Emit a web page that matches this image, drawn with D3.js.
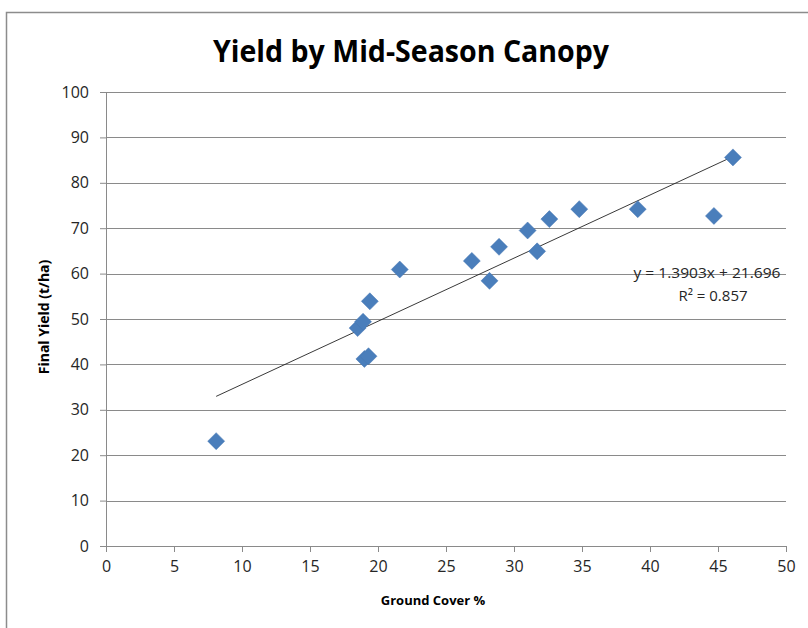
<!DOCTYPE html>
<html>
<head>
<meta charset="utf-8">
<script src="https://cdn.jsdelivr.net/npm/d3@7"></script>
<style>
  body { margin: 0; background: #fff; }
  text { font-family: "Open Sans", "Liberation Sans", sans-serif; }
</style>
</head>
<body>
<div id="chart"></div>
<script>
// Data
const groundCover = [8.1, 18.5, 18.9, 19.0, 19.3, 19.4, 21.6, 26.9, 28.2, 28.9, 31.0, 31.7, 32.6, 34.8, 39.1, 44.7, 46.1];
const finalYield  = [23.1, 48.0, 49.4, 41.2, 41.8, 53.9, 60.9, 62.8, 58.4, 65.9, 69.5, 64.9, 72.0, 74.2, 74.2, 72.7, 85.6];
const xTicks = [0, 5, 10, 15, 20, 25, 30, 35, 40, 45, 50];
const yTicks = [0, 10, 20, 30, 40, 50, 60, 70, 80, 90, 100];
const slope = 1.3903, intercept = 21.696;
const trendLabel = "y = 1.3903x + 21.696";
const r2Label = "R² = 0.857";

const width = 808, height = 628;
const margin = { left: 106, right: 22, top: 92, bottom: 82 };

const svg = d3.select("#chart")
    .append("svg")
    .attr("width", width)
    .attr("height", height);

// outer chart border (only top and left visible)
svg.append("path")
    .attr("d", `M6.5,${height} V12.5 H${width}`)
    .attr("fill", "none")
    .attr("stroke", "#8c8c8c")
    .attr("stroke-width", 1.5);

const x = d3.scaleLinear().domain([0, 50]).range([margin.left, width - margin.right]);
const y = d3.scaleLinear().domain([0, 100]).range([height - margin.bottom, margin.top]);

// gridlines
svg.append("g")
    .selectAll("line")
    .data(yTicks.filter(d => d > 0))
    .join("line")
    .attr("x1", x(0))
    .attr("x2", x(50))
    .attr("y1", d => Math.round(y(d)) + 0.5)
    .attr("y2", d => Math.round(y(d)) + 0.5)
    .attr("stroke", "#8a8a8a")
    .attr("stroke-width", 1);

// axes
const yAxis = svg.append("g")
    .attr("transform", `translate(${x(0)},0)`)
    .call(d3.axisLeft(y).tickValues(yTicks).tickSize(6).tickPadding(11));

const xAxis = svg.append("g")
    .attr("transform", `translate(0,${y(0)})`)
    .call(d3.axisBottom(x).tickValues(xTicks).tickSize(6).tickPadding(9));

[xAxis, yAxis].forEach(g => {
    g.select(".domain").attr("stroke", "#8a8a8a");
    g.selectAll(".tick line").attr("stroke", "#8a8a8a");
    g.selectAll(".tick text")
        .attr("fill", "#262626")
        .style("font-size", "16px")
        .style("font-family", "'Open Sans', sans-serif");
});

// trendline
const xMin = d3.min(groundCover), xMax = d3.max(groundCover);
svg.append("line")
    .attr("x1", x(xMin))
    .attr("y1", y(slope * xMin + intercept))
    .attr("x2", x(xMax))
    .attr("y2", y(slope * xMax + intercept))
    .attr("stroke", "#222")
    .attr("stroke-width", 0.9);

// points
const pts = groundCover.map((d, i) => ({ gc: d, yl: finalYield[i] }));
svg.append("g")
    .selectAll("path")
    .data(pts)
    .join("path")
    .attr("transform", d => `translate(${x(d.gc)},${y(d.yl)})`)
    .attr("d", "M0,-8.5 L8.5,0 L0,8.5 L-8.5,0 Z")
    .attr("fill", "#4a7ebb")
    .attr("stroke", "#4677b3")
    .attr("stroke-width", 0.5);

// trendline label
svg.append("text")
    .attr("x", 707)
    .attr("y", 278)
    .attr("text-anchor", "middle")
    .attr("fill", "#262626")
    .style("font-size", "15px")
    .attr("textLength", 147)
    .attr("lengthAdjust", "spacingAndGlyphs")
    .text(trendLabel);
svg.append("text")
    .attr("x", 713)
    .attr("y", 301)
    .attr("text-anchor", "middle")
    .attr("fill", "#262626")
    .style("font-size", "15px")
    .text(r2Label);

// title
svg.append("text")
    .attr("x", 411)
    .attr("y", 62)
    .attr("text-anchor", "middle")
    .attr("fill", "#000")
    .style("font-size", "30px")
    .style("font-weight", "bold")
    .attr("textLength", 396)
    .attr("lengthAdjust", "spacingAndGlyphs")
    .text("Yield by Mid-Season Canopy");

// axis titles
svg.append("text")
    .attr("x", 433)
    .attr("y", 605)
    .attr("text-anchor", "middle")
    .style("font-size", "13px")
    .style("font-weight", "bold")
    .text("Ground Cover %");

svg.append("text")
    .attr("transform", "translate(49,317) rotate(-90)")
    .attr("text-anchor", "middle")
    .style("font-size", "14px")
    .style("font-weight", "bold")
    .text("Final Yield (t/ha)");
</script>
</body>
</html>
